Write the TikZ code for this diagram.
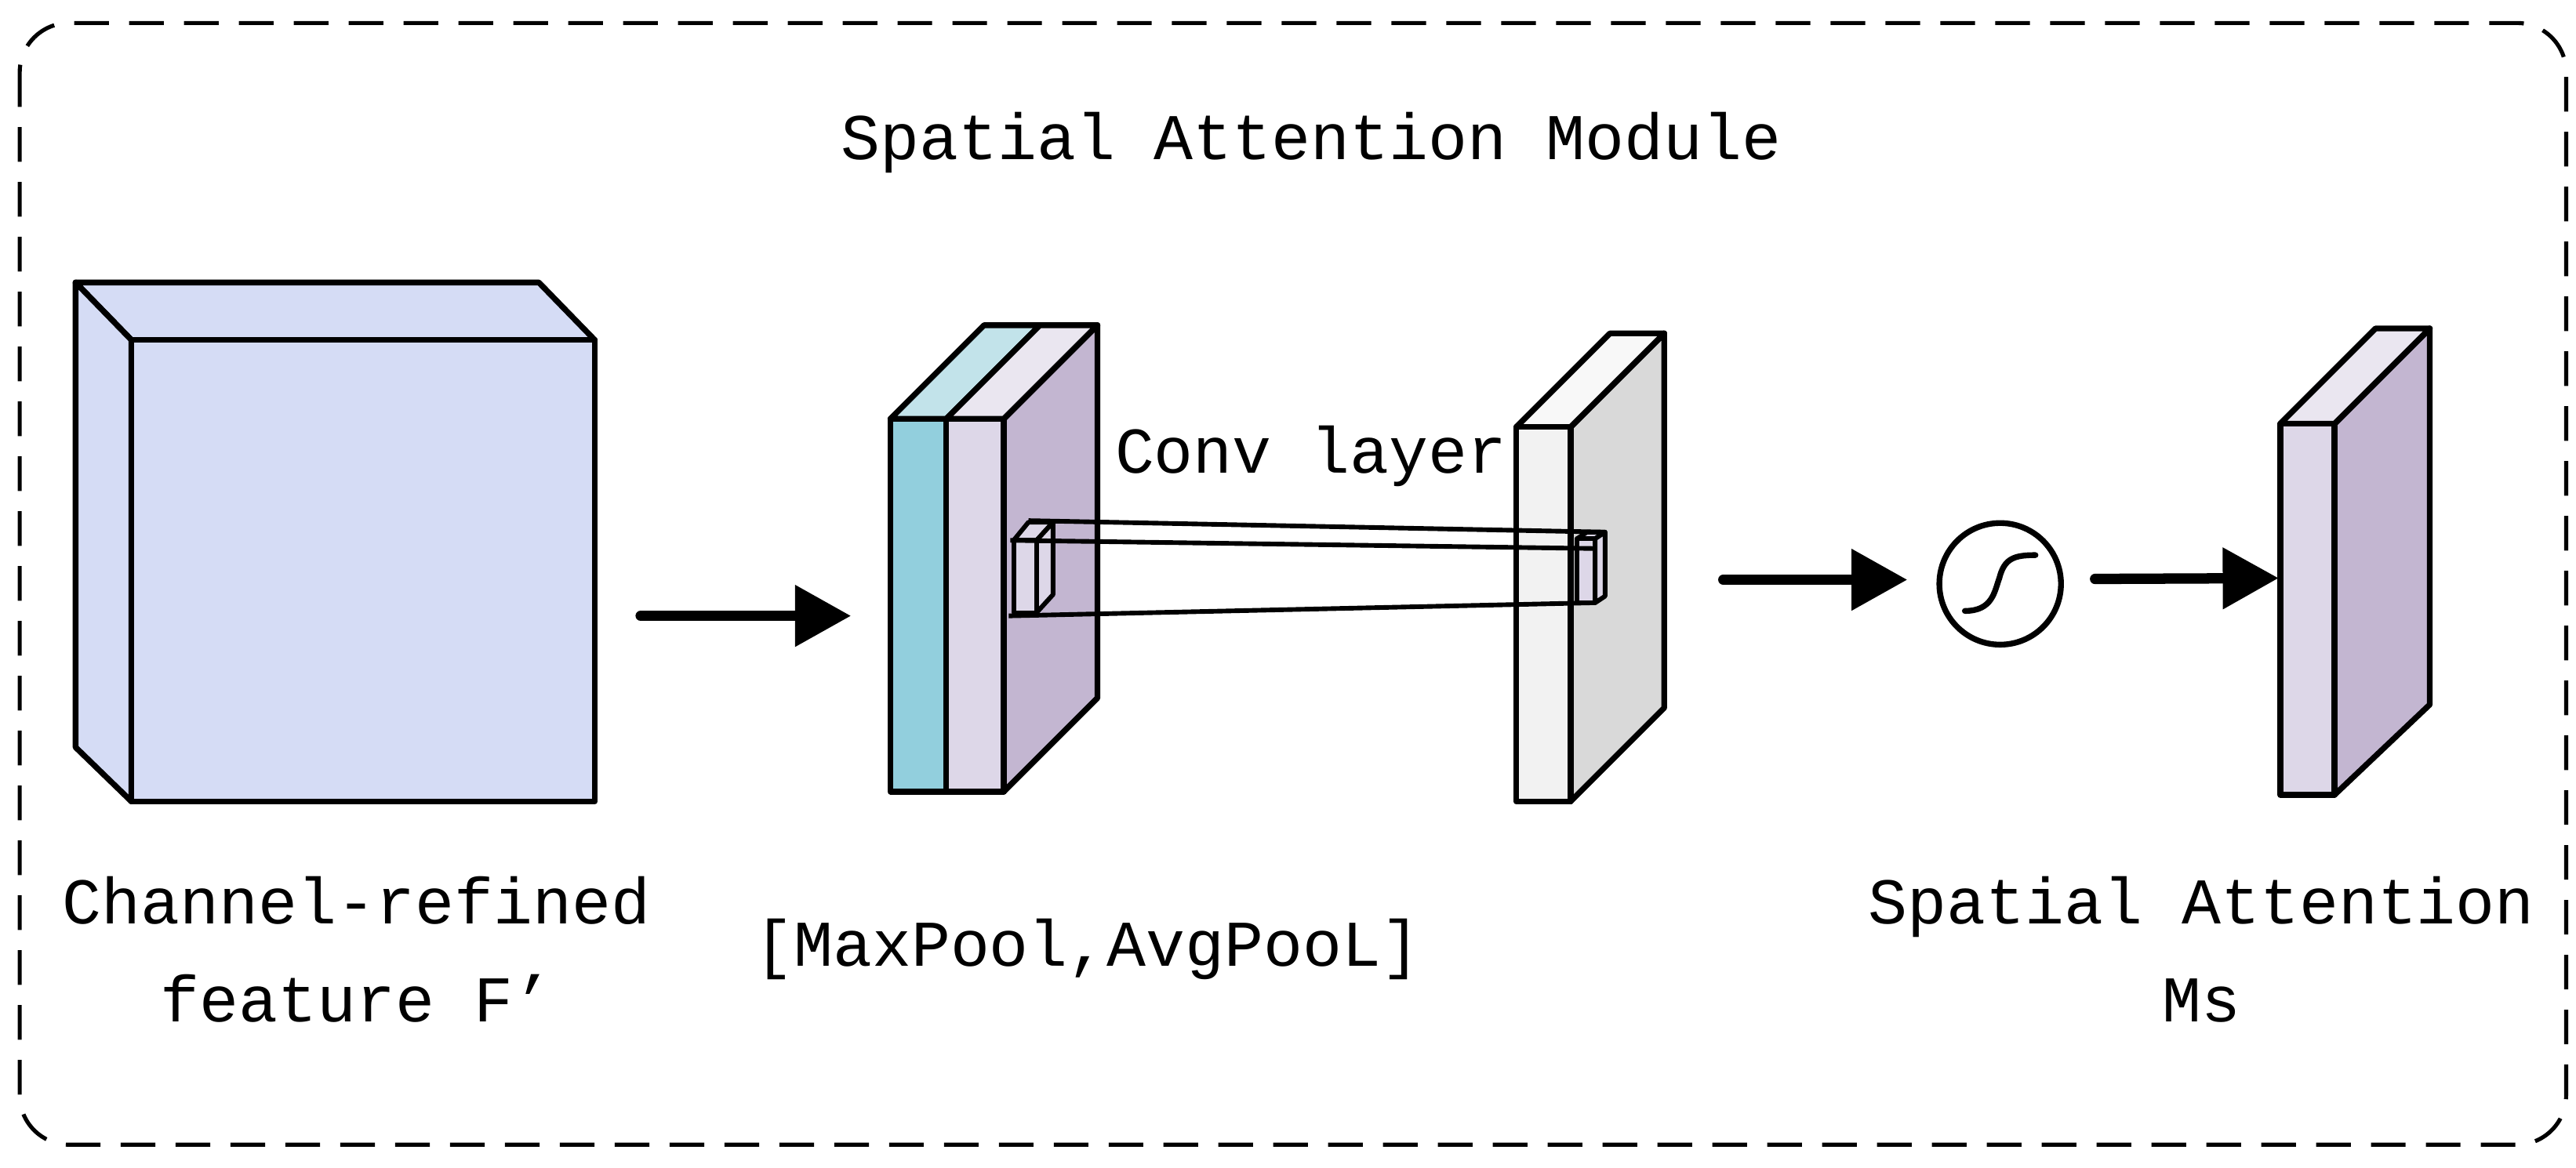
\documentclass[tikz,border=0pt]{standalone}
\usepackage{fontspec}
\setmainfont{Liberation Mono}
\usetikzlibrary{arrows.meta}
\definecolor{cube}{HTML}{D5DCF5}
\definecolor{teal1}{HTML}{92CFDD}
\definecolor{teal2}{HTML}{C2E3EA}
\definecolor{lav1}{HTML}{DDD7E8}
\definecolor{lav2}{HTML}{EAE6F0}
\definecolor{purp}{HTML}{C3B6D1}
\definecolor{g1}{HTML}{F2F2F2}
\definecolor{g2}{HTML}{F8F8F8}
\definecolor{g3}{HTML}{D9D9D9}
\begin{document}
\begin{tikzpicture}[x=0.01cm,y=-0.01cm,
  face/.style={draw=black,line width=1pt,line join=round},
  thin face/.style={draw=black,line width=0.8pt,line join=round},
  lbl/.style={font=\fontsize{11.3pt}{17pt}\selectfont,align=center,inner sep=0pt},
  flow/.style={line width=1.8pt,line cap=round,-{Triangle[length=0.34cm,width=0.36cm]}}]
\useasboundingbox (0,0) rectangle (1568,711);
\draw[line width=0.7pt,dash pattern=on 6pt off 3.5pt,rounded corners=0.3cm] (12,14) rectangle (1562,697);
\node[lbl] (title) at (798,87) {Spatial Attention Module};
% big cube
\fill[cube,face] (46,172) -- (328,172) -- (362,207) -- (80,207) -- cycle;
\fill[cube,face] (46,172) -- (80,207) -- (80,488) -- (46,455) -- cycle;
\fill[cube,face] (80,207) rectangle (362,488);
\node[lbl] (cf) at (217,578) {Channel-refined\\feature F’};
% arrow 1
\coordinate (a1s) at (390,375);
\coordinate (a1e) at (518,375);
\draw[flow] (a1s) -- (a1e);
% middle stack
\fill[purp,face] (611,255) -- (668,198) -- (668,425) -- (611,482) -- cycle;
\fill[teal2,face] (542,255) -- (599,198) -- (633,198) -- (576,255) -- cycle;
\fill[lav2,face] (576,255) -- (633,198) -- (668,198) -- (611,255) -- cycle;
\fill[teal1,face] (542,255) rectangle (576,482);
\fill[lav1,face] (576,255) rectangle (611,482);
\node[lbl] (mp) at (662,578) {[MaxPool,AvgPooL]};
% conv slab
\fill[g3,face] (956,260) -- (1013,203) -- (1013,431) -- (956,488) -- cycle;
\fill[g2,face] (923,260) -- (980,203) -- (1013,203) -- (956,260) -- cycle;
\fill[g1,face] (923,260) rectangle (956,488);
\node[lbl] (conv) at (798,278) {Conv layer};
% small box on stack
\fill[lav1,thin face] (617,329) -- (626,318) -- (641,318) -- (631,329) -- cycle;
\fill[lav1,thin face] (631,329) -- (641,318) -- (641,362) -- (631,373) -- cycle;
\fill[lav1,thin face] (617,329) rectangle (631,373);
\coordinate (k1) at (626,317);
\coordinate (k2) at (615,329);
\coordinate (k3) at (614,375);
% small box on conv
\fill[lav1,thin face] (960,328) -- (966,324) -- (977,324) -- (971,328) -- cycle;
\fill[lav1,thin face] (971,328) -- (977,324) -- (977,363) -- (971,367) -- cycle;
\fill[lav1,thin face] (960,328) rectangle (971,367);
\coordinate (t1) at (977,324);
\coordinate (t2) at (971,334);
\coordinate (t3) at (971,367);
\draw[line width=0.8pt] (k1) -- (t1) (k2) -- (t2) (k3) -- (t3);
% arrow 2, sigmoid, arrow 3
\coordinate (a2s) at (1049,353);
\coordinate (a2e) at (1161,353);
\draw[flow] (a2s) -- (a2e);
\node[draw,circle,line width=1pt,minimum size=0.74cm,inner sep=0pt] (sig) at (1217.5,355.5) {};
\draw[line width=1pt,line cap=round] (1196,372) .. controls (1213,372) and (1214,360) .. (1217,352) .. controls (1220,340) and (1226,338) .. (1239,338);
\coordinate (a3e) at (1387,352);
\draw[flow] (sig.east) ++(19,-3) coordinate (a3s) (a3s) -- (a3e);
% output slab
\fill[purp,face] (1421,258) -- (1479,200) -- (1479,429) -- (1421,484) -- cycle;
\fill[lav2,face] (1388,258) -- (1446,200) -- (1479,200) -- (1421,258) -- cycle;
\fill[lav1,face] (1388,258) rectangle (1421,484);
\node[lbl] (sa) at (1340,578) {Spatial Attention\\Ms};
\end{tikzpicture}
\end{document}
